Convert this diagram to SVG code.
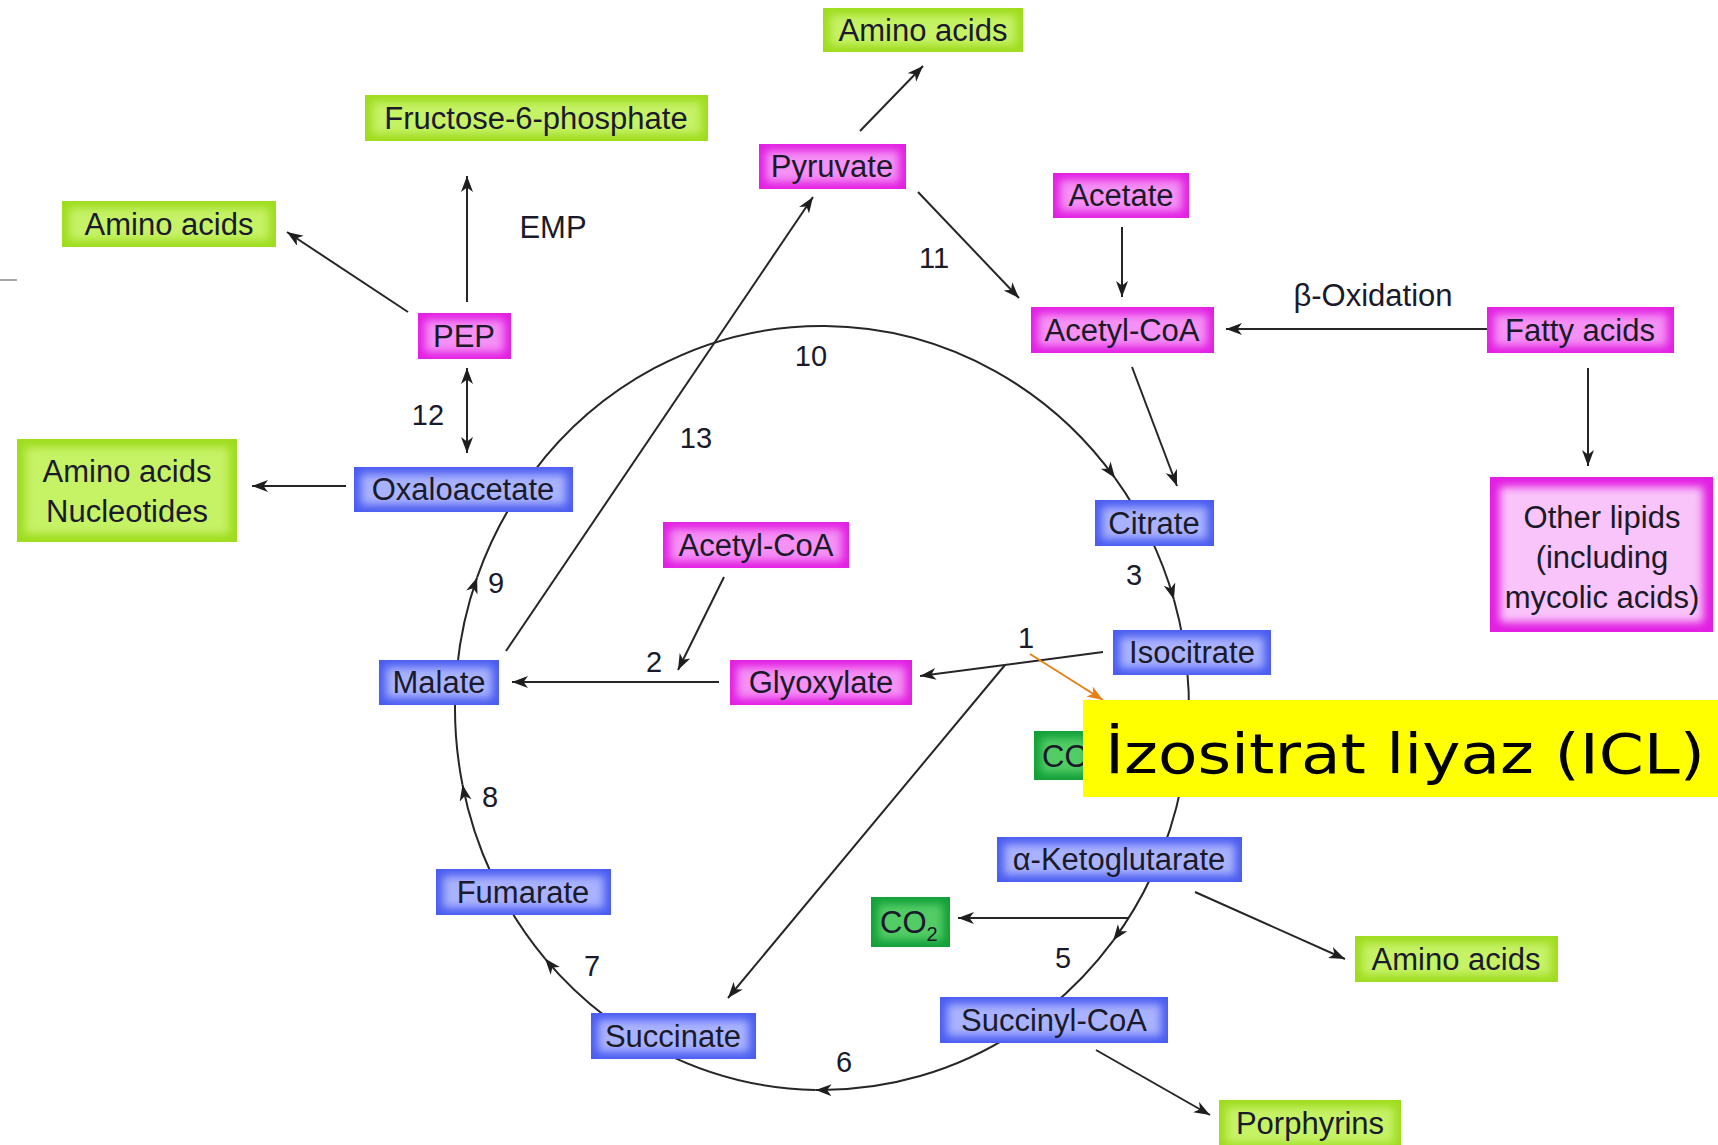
<svg xmlns="http://www.w3.org/2000/svg" width="1718" height="1145" viewBox="0 0 1718 1145">
<defs>
<style>
.t{font-family:"Liberation Sans",Arial,sans-serif;font-size:31px;fill:#1a1a2a;text-anchor:middle}
.n{font-family:"Liberation Sans",Arial,sans-serif;font-size:29px;fill:#1a1a2a;text-anchor:middle}
.ln{fill:none;stroke:#262626;stroke-width:2}
.mo{fill:#e21fe2}.mi{fill:#f590f5}
.bo{fill:#4a5cf0}.bi{fill:#a9b2ff}
.go{fill:#9fdc1e}.gi{fill:#c6f266}
.co{fill:#12a038}.ci{fill:#52cc66}
</style>
<filter id="soft" x="-50%" y="-50%" width="200%" height="200%"><feGaussianBlur stdDeviation="4"/></filter>
<marker id="ah" markerUnits="userSpaceOnUse" markerWidth="18" markerHeight="13" refX="16" refY="6" orient="auto-start-reverse"><path d="M0,0 L16,6 L0,12 L4.5,6 Z" fill="#1e1e1e"/></marker>
<marker id="ao" markerUnits="userSpaceOnUse" markerWidth="18" markerHeight="13" refX="16" refY="6" orient="auto"><path d="M0,0 L16,6 L0,12 L4.5,6 Z" fill="#e8801a"/></marker>
</defs>
<rect width="1718" height="1145" fill="#ffffff"/>

<g id="connectors">
<path class="ln" d="M532.8,472.8 A367,382 0 0 1 1115.1,478.1" marker-end="url(#ah)"/>
<path class="ln" d="M1115.1,478.1 A367,382 0 0 1 1139.8,517"/>
<path class="ln" d="M1149,534.6 A367,382 0 0 1 1173.9,599.5" marker-end="url(#ah)"/>
<path class="ln" d="M1173.9,599.5 A367,382 0 0 1 1183.4,641.7"/>
<path class="ln" d="M1187,668.1 A367,382 0 0 1 1185.4,761.2" marker-end="url(#ah)"/>
<path class="ln" d="M1185.4,761.2 A367,382 0 0 1 1162.3,851.1"/>
<path class="ln" d="M1151.9,875.5 A367,382 0 0 1 1113.2,940.6" marker-end="url(#ah)"/>
<path class="ln" d="M1113.2,940.6 A367,382 0 0 1 1047.9,1009"/>
<path class="ln" d="M1016.5,1031.9 A367,382 0 0 1 815.6,1089.9" marker-end="url(#ah)"/>
<path class="ln" d="M815.6,1089.9 A367,382 0 0 1 661.1,1051.3"/>
<path class="ln" d="M606.3,1017 A367,382 0 0 1 545,958.6" marker-end="url(#ah)"/>
<path class="ln" d="M545,958.6 A367,382 0 0 1 504.2,899"/>
<path class="ln" d="M492.1,875.5 A367,382 0 0 1 462.5,784.8" marker-end="url(#ah)"/>
<path class="ln" d="M462.5,784.8 A367,382 0 0 1 455.2,694.7"/>
<path class="ln" d="M457,668.1 A367,382 0 0 1 477.1,577.4" marker-end="url(#ah)"/>
<path class="ln" d="M477.1,577.4 A367,382 0 0 1 517.8,494.4"/>
<path class="ln" d="M860,131 L923,66" marker-end="url(#ah)"/>
<path class="ln" d="M467,302 L467,176" marker-end="url(#ah)"/>
<path class="ln" d="M408,312 L287,232" marker-end="url(#ah)"/>
<path class="ln" d="M467,368 L467,453" marker-start="url(#ah)" marker-end="url(#ah)"/>
<path class="ln" d="M346,486 L252,486" marker-end="url(#ah)"/>
<path class="ln" d="M506,651 L813,197" marker-end="url(#ah)"/>
<path class="ln" d="M918,192 L1019,298" marker-end="url(#ah)"/>
<path class="ln" d="M1122,227 L1122,297" marker-end="url(#ah)"/>
<path class="ln" d="M1488,329 L1226,329" marker-end="url(#ah)"/>
<path class="ln" d="M1588,368 L1588,466" marker-end="url(#ah)"/>
<path class="ln" d="M1132,367 L1177,486" marker-end="url(#ah)"/>
<path class="ln" d="M724,577 L678,670" marker-end="url(#ah)"/>
<path class="ln" d="M719,682 L512,682" marker-end="url(#ah)"/>
<path class="ln" d="M1103,652 L920,676" marker-end="url(#ah)"/>
<path class="ln" d="M1005,665 L728,998" marker-end="url(#ah)"/>
<path class="ln" d="M1128,918 L958,918" marker-end="url(#ah)"/>
<path class="ln" d="M1195,892 L1345,959" marker-end="url(#ah)"/>
<path class="ln" d="M1096,1050 L1210,1115" marker-end="url(#ah)"/>
<path d="M0,280 L17,280" stroke="#888" stroke-width="1.5"/>
</g>

<g id="labels">
<text class="n" x="811" y="366">10</text>
<text class="n" x="934" y="268">11</text>
<text class="n" x="428" y="425">12</text>
<text class="n" x="696" y="448">13</text>
<text class="n" x="1134" y="585">3</text>
<text class="n" x="1026" y="648">1</text>
<text class="n" x="654" y="672">2</text>
<text class="n" x="496" y="593">9</text>
<text class="n" x="490" y="807">8</text>
<text class="n" x="592" y="976">7</text>
<text class="n" x="844" y="1072">6</text>
<text class="n" x="1063" y="968">5</text>
<text class="t" x="553" y="238">EMP</text>
<text class="t" x="1373" y="306">β-Oxidation</text>
</g>

<g id="aa-top"><rect class="go" x="823" y="8" width="200" height="44"/><rect class="gi" x="830" y="15" width="186" height="30" filter="url(#soft)"/><text class="t" x="923" y="41">Amino acids</text></g>
<g id="f6p"><rect class="go" x="365" y="95" width="343" height="46"/><rect class="gi" x="372" y="102" width="329" height="32" filter="url(#soft)"/><text class="t" x="536" y="129">Fructose-6-phosphate</text></g>
<g id="aa-left"><rect class="go" x="62" y="201" width="214" height="46"/><rect class="gi" x="69" y="208" width="200" height="32" filter="url(#soft)"/><text class="t" x="169" y="235">Amino acids</text></g>
<g id="aa-nuc"><rect class="go" x="17" y="439" width="220" height="103"/><rect class="gi" x="25" y="447" width="204" height="87" filter="url(#soft)"/><text class="t" x="127" y="482">Amino acids</text><text class="t" x="127" y="522">Nucleotides</text></g>
<g id="aa-right"><rect class="go" x="1355" y="936" width="203" height="46"/><rect class="gi" x="1362" y="943" width="189" height="32" filter="url(#soft)"/><text class="t" x="1456" y="970">Amino acids</text></g>
<g id="porphyrins"><rect class="go" x="1219" y="1100" width="182" height="50"/><rect class="gi" x="1226" y="1107" width="168" height="36" filter="url(#soft)"/><text class="t" x="1310" y="1134">Porphyrins</text></g>

<g id="pyruvate"><rect class="mo" x="759" y="144" width="147" height="45"/><rect class="mi" x="766" y="151" width="133" height="31" filter="url(#soft)"/><text class="t" x="832" y="177">Pyruvate</text></g>
<g id="acetate"><rect class="mo" x="1053" y="173" width="136" height="45"/><rect class="mi" x="1060" y="180" width="122" height="31" filter="url(#soft)"/><text class="t" x="1121" y="206">Acetate</text></g>
<g id="acetylcoa-top"><rect class="mo" x="1031" y="307" width="183" height="46"/><rect class="mi" x="1038" y="314" width="169" height="32" filter="url(#soft)"/><text class="t" x="1122" y="341">Acetyl-CoA</text></g>
<g id="fatty-acids"><rect class="mo" x="1487" y="307" width="187" height="46"/><rect class="mi" x="1494" y="314" width="173" height="32" filter="url(#soft)"/><text class="t" x="1580" y="341">Fatty acids</text></g>
<g id="pep"><rect class="mo" x="418" y="313" width="93" height="46"/><rect class="mi" x="425" y="320" width="79" height="32" filter="url(#soft)"/><text class="t" x="464" y="347">PEP</text></g>
<g id="acetylcoa-mid"><rect class="mo" x="663" y="522" width="186" height="46"/><rect class="mi" x="670" y="529" width="172" height="32" filter="url(#soft)"/><text class="t" x="756" y="556">Acetyl-CoA</text></g>
<g id="glyoxylate"><rect class="mo" x="730" y="660" width="182" height="45"/><rect class="mi" x="737" y="667" width="168" height="31" filter="url(#soft)"/><text class="t" x="821" y="693">Glyoxylate</text></g>
<g id="other-lipids"><rect class="mo" x="1490" y="477" width="223" height="155"/><rect x="1500" y="487" width="203" height="135" fill="#f9c4f9" filter="url(#soft)"/><text class="t" x="1602" y="528">Other lipids</text><text class="t" x="1602" y="568">(including</text><text class="t" x="1602" y="608">mycolic acids)</text></g>

<g id="oxaloacetate"><rect class="bo" x="354" y="467" width="219" height="45"/><rect class="bi" x="361" y="474" width="205" height="31" filter="url(#soft)"/><text class="t" x="463" y="500">Oxaloacetate</text></g>
<g id="citrate"><rect class="bo" x="1095" y="500" width="119" height="46"/><rect class="bi" x="1102" y="507" width="105" height="32" filter="url(#soft)"/><text class="t" x="1154" y="534">Citrate</text></g>
<g id="isocitrate"><rect class="bo" x="1113" y="630" width="158" height="45"/><rect class="bi" x="1120" y="637" width="144" height="31" filter="url(#soft)"/><text class="t" x="1192" y="663">Isocitrate</text></g>
<g id="malate"><rect class="bo" x="379" y="660" width="120" height="45"/><rect class="bi" x="386" y="667" width="106" height="31" filter="url(#soft)"/><text class="t" x="439" y="693">Malate</text></g>
<g id="a-ketoglutarate"><rect class="bo" x="997" y="837" width="245" height="45"/><rect class="bi" x="1004" y="844" width="231" height="31" filter="url(#soft)"/><text class="t" x="1119" y="870">α-Ketoglutarate</text></g>
<g id="fumarate"><rect class="bo" x="436" y="869" width="175" height="46"/><rect class="bi" x="443" y="876" width="161" height="32" filter="url(#soft)"/><text class="t" x="523" y="903">Fumarate</text></g>
<g id="succinyl-coa"><rect class="bo" x="940" y="997" width="228" height="46"/><rect class="bi" x="947" y="1004" width="214" height="32" filter="url(#soft)"/><text class="t" x="1054" y="1031">Succinyl-CoA</text></g>
<g id="succinate"><rect class="bo" x="591" y="1013" width="165" height="46"/><rect class="bi" x="598" y="1020" width="151" height="32" filter="url(#soft)"/><text class="t" x="673" y="1047">Succinate</text></g>

<g id="co2-upper"><rect class="co" x="1034" y="731" width="60" height="49"/><rect class="ci" x="1041" y="738" width="46" height="35" filter="url(#soft)"/><text class="t" x="1042" y="767" style="text-anchor:start">CO<tspan font-size="20" dy="8">2</tspan></text></g>
<g id="co2-lower"><rect class="co" x="871" y="897" width="79" height="50"/><rect class="ci" x="878" y="904" width="65" height="36" filter="url(#soft)"/><text class="t" x="880" y="933" style="text-anchor:start">CO<tspan font-size="20" dy="8">2</tspan></text></g>

<g id="icl-label">
<path d="M1030,654 L1103,700" stroke="#e8801a" stroke-width="2" fill="none" marker-end="url(#ao)"/>
<rect x="1083" y="700" width="635" height="97" fill="#ffff00"/>
<text x="1105" y="773" font-family="DejaVu Sans, sans-serif" font-size="56" fill="#000" textLength="600" lengthAdjust="spacingAndGlyphs">İzositrat liyaz (ICL)</text>
</g>
</svg>
